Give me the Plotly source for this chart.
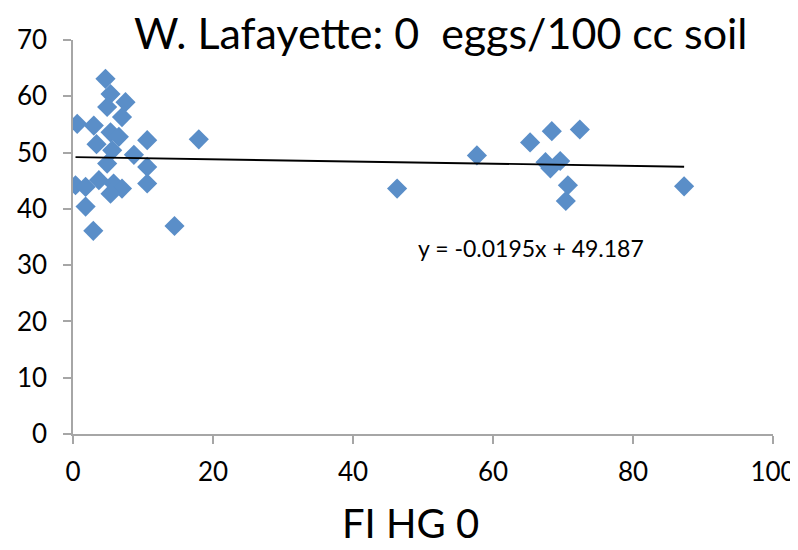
import plotly.graph_objects as go

# Data
fi_hg0 = [4.64, 5.36, 7.5, 4.88, 7.0, 0.6, 2.97, 5.36, 6.55, 10.6, 17.97, 3.36, 5.6, 8.7,
          4.88, 10.6, 0.36, 1.8, 3.7, 5.8, 7.0, 5.36, 10.6, 1.8, 2.9, 14.5,
          46.3, 57.7, 65.3, 68.4, 72.4, 67.5, 69.6, 68.2, 70.7, 70.4, 87.3]
yield_vals = [63.1, 60.4, 58.96, 58.1, 56.3, 55.1, 54.8, 53.6, 52.8, 52.2, 52.35, 51.5, 50.4, 49.6,
              48.05, 47.45, 44.2, 43.9, 45.1, 44.5, 43.6, 42.7, 44.5, 40.4, 36.1, 36.95,
              43.6, 49.5, 51.8, 53.8, 54.1, 48.3, 48.5, 47.2, 44.2, 41.4, 44.0]
slope = -0.0195
intercept = 49.187
x_ticks = [0, 20, 40, 60, 80, 100]
y_ticks = [0, 10, 20, 30, 40, 50, 60, 70]

FONT = "Lato"

trend_x = [min(fi_hg0), max(fi_hg0)]
trend_y = [slope * v + intercept for v in trend_x]

# page body has an 8px margin; compensate so the plot lands where the reference has it
OFF = 8
L, R, T, B = 72.5, 798 - 773, 39.5, 550 - 434.5
PW, PH = 773 - 72.5, 434.5 - 39.5

fig = go.Figure()
fig.add_trace(go.Scatter(x=fi_hg0, y=yield_vals, mode="markers",
                         marker=dict(symbol="diamond", size=15.5, color="#5a8ec8",
                                     line=dict(width=0)),
                         showlegend=False))
fig.add_trace(go.Scatter(x=trend_x, y=trend_y, mode="lines",
                         line=dict(color="black", width=1.8), showlegend=False))

fig.add_annotation(text="W. Lafayette: 0  eggs/100 cc soil", xref="paper", yref="paper",
                   x=(441 - L) / PW, y=(434.5 - 32) / PH, showarrow=False,
                   font=dict(family=FONT, size=43, color="black"),
                   xanchor="center", yanchor="middle")
fig.add_annotation(text="FI HG 0", xref="paper", yref="paper",
                   x=(410 - L) / PW, y=(434.5 - 524) / PH, showarrow=False,
                   font=dict(family=FONT, size=40, color="black"),
                   xanchor="center", yanchor="middle")
fig.add_annotation(text="y = -0.0195x + 49.187", x=65.4, y=33.1, showarrow=False,
                   font=dict(family=FONT, size=23, color="black"))

fig.update_layout(
    width=798, height=550,
    margin=dict(l=L - OFF, r=R + OFF, t=T - OFF, b=B + OFF, autoexpand=False),
    paper_bgcolor="white", plot_bgcolor="white",
    font=dict(family=FONT, size=26, color="black"),
    xaxis=dict(range=[0, 100], tickvals=x_ticks, showgrid=False, zeroline=False,
               showline=True, linecolor="#a6a6a6", linewidth=1.5,
               ticks="outside", ticklen=8, tickcolor="#a6a6a6", tickwidth=1.5,
               tickfont=dict(size=26), ticklabelstandoff=6, automargin=False),
    yaxis=dict(range=[0, 70], tickvals=y_ticks, showgrid=False, zeroline=False,
               showline=True, linecolor="#a6a6a6", linewidth=1.5,
               ticks="outside", ticklen=8, tickcolor="#a6a6a6", tickwidth=1.5,
               tickfont=dict(size=26), ticklabelstandoff=11, automargin=False),
)

fig.write_html("out.html")
